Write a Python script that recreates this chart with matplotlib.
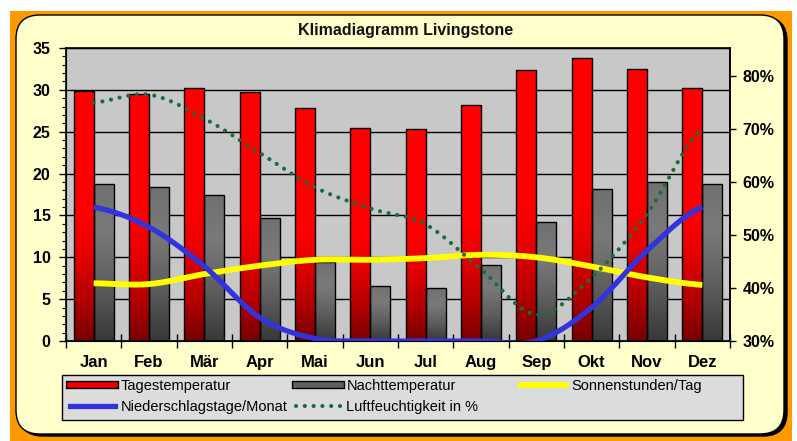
import numpy as np
import matplotlib.pyplot as plt
from matplotlib.patches import FancyBboxPatch, Rectangle
from matplotlib.lines import Line2D
from matplotlib.colors import LinearSegmentedColormap
import matplotlib.patheffects as pe

plt.rcParams['font.family'] = ['Liberation Sans', 'DejaVu Sans']

months = ['Jan', 'Feb', 'Mär', 'Apr', 'Mai', 'Jun', 'Jul', 'Aug', 'Sep', 'Okt', 'Nov', 'Dez']
tagestemp = [29.9, 29.5, 30.2, 29.7, 27.8, 25.5, 25.3, 28.2, 32.4, 33.8, 32.5, 30.2]
nachttemp = [18.8, 18.4, 17.4, 14.7, 9.4, 6.6, 6.3, 9.1, 14.2, 18.1, 19.0, 18.8]
sonnen = [6.9, 6.8, 8.0, 9.0, 9.7, 9.7, 9.9, 10.3, 10.0, 8.9, 7.6, 6.7]
regentage = [16, 13.6, 8.9, 2.8, 0.3, 0, 0, 0, 0, 4.0, 10.8, 16]
feuchte = [75, 76.5, 72, 65.5, 59, 55, 52, 43.5, 35, 42, 54, 70]


def smooth(y, n=24):
    # Catmull-Rom Kurve wie Excel "geglättete Linie"
    y = np.asarray(y, dtype=float)
    p = np.concatenate([[y[0]], y, [y[-1]]])
    xs, ys = [], []
    for i in range(len(y) - 1):
        p0, p1, p2, p3 = p[i], p[i + 1], p[i + 2], p[i + 3]
        t = np.linspace(0, 1, n, endpoint=False)
        v = 0.5 * (2 * p1 + (-p0 + p2) * t + (2 * p0 - 5 * p1 + 4 * p2 - p3) * t**2
                   + (-p0 + 3 * p1 - 3 * p2 + p3) * t**3)
        xs.append(i + t)
        ys.append(v)
    xs.append([len(y) - 1])
    ys.append([y[-1]])
    return np.concatenate(xs), np.concatenate(ys)


W, H = 797, 441
fig = plt.figure(figsize=(W / 100, H / 100), dpi=100)

# orange Rahmen + gelbes Panel
fig.patches.append(Rectangle((10 / W, 0), 782 / W, 1 - 11 / H, transform=fig.transFigure,
                             facecolor='#ff9900', edgecolor='none', zorder=-5))
fig.patches.append(FancyBboxPatch((19 / W, 5 / H), 768 / W, 1 - 22 / H,
                                  boxstyle='round,pad=0,rounding_size=0.03',
                                  transform=fig.transFigure, facecolor='black',
                                  edgecolor='black', zorder=-4, mutation_aspect=W / H))
fig.patches.append(FancyBboxPatch((16 / W, 7 / H), 768 / W, 1 - 22 / H,
                                  boxstyle='round,pad=0,rounding_size=0.03',
                                  transform=fig.transFigure, facecolor='#ffffcc',
                                  edgecolor='black', lw=1, zorder=-3, mutation_aspect=W / H))
fig.patches.append(Rectangle((62 / W, 1 - 420 / H), 681 / W, 45 / H, transform=fig.transFigure,
                             facecolor='#dcdcdc', edgecolor='black', lw=1, zorder=-2))

ax = fig.add_axes([66 / W, 1 - 341 / H, 664 / W, 293 / H])
ax.set_facecolor('#c8c8c8')
x = np.arange(len(months))
w = 0.36

red_cmap = LinearSegmentedColormap.from_list(
    'r', [(0, '#780000'), (0.15, '#b00000'), (0.35, '#e80000'), (0.5, '#ff0000'), (1, '#ff0000')])
grey_cmap = LinearSegmentedColormap.from_list(
    'g', [(0, '#383838'), (0.35, '#5e5e5e'), (0.7, '#7a7a7a'), (1, '#707070')])
grad = np.linspace(0, 1, 128).reshape(-1, 1)

for vals, off, cmap in [(tagestemp, -w / 2, red_cmap), (nachttemp, w / 2, grey_cmap)]:
    bars = ax.bar(x + off, vals, width=w, color='none', edgecolor='black', lw=1, zorder=3)
    for b in bars:
        x0, h = b.get_x(), b.get_height()
        im = ax.imshow(grad, extent=[x0, x0 + w, 0, h], origin='lower', aspect='auto',
                       cmap=cmap, zorder=2.5)
        im.set_clip_path(b)

sx, sy = smooth(sonnen)
ax.plot(sx, sy, color='#ffff00', lw=4.2, zorder=4, solid_capstyle='butt')
rx, ry = smooth(regentage)
ax.plot(rx, ry, color='#3333dd', lw=3.8, zorder=4, solid_capstyle='butt')

ax.set_xlim(-0.5, 11.5)
ax.set_ylim(0, 35)
ax.set_yticks(np.arange(0, 36, 5))
ax.set_yticks(np.arange(0, 36, 1), minor=True)
ax.grid(axis='y', which='major', color='black', lw=1, zorder=1)
ax.set_axisbelow(True)
ax.set_xticks(x)
ax.set_xticklabels(months, fontsize=12, fontweight='bold')
ax.set_xticks(np.arange(-0.5, 12, 1), minor=True)
ax.tick_params(axis='x', which='major', length=0, pad=10)
ax.tick_params(axis='x', which='minor', length=10, direction='inout', width=1)
ax.tick_params(axis='y', which='major', length=5, width=1, pad=6, labelsize=11.5)
ax.tick_params(axis='y', which='minor', length=3, width=0.8)
for lab in ax.get_yticklabels():
    lab.set_fontweight('bold')
for s in ax.spines.values():
    s.set_linewidth(1.2)

ax2 = ax.twinx()
fx, fy = smooth(feuchte)
ax2.plot(fx, fy, color='#1d6b3c', lw=3, linestyle=(0, (0.01, 2.1)),
         dash_capstyle='round', zorder=4)
ax2.set_ylim(30, 85.3)
ax2.set_yticks(np.arange(30, 81, 10))
ax2.set_yticklabels([f'{v}%' for v in range(30, 81, 10)], fontsize=11.5, fontweight='bold')
ax2.tick_params(axis='y', length=4, width=1, pad=5)
ax2.spines['right'].set_linewidth(1.2)

# Legende
bar_red = Line2D([], [], color='#ee0000', lw=4,
                 path_effects=[pe.Stroke(linewidth=6, foreground='black'), pe.Normal()])
bar_grey = Line2D([], [], color='#606060', lw=4,
                  path_effects=[pe.Stroke(linewidth=6, foreground='black'), pe.Normal()])
line_blue = Line2D([], [], color='#3333dd', lw=3.8)
line_green = Line2D([], [], color='#1d6b3c', lw=3, linestyle=(0, (0.01, 2.1)), dash_capstyle='round')
line_yellow = Line2D([], [], color='#ffff00', lw=4.2)

cols = [
    ([bar_red, line_blue], ['Tagestemperatur', 'Niederschlagstage/Monat'], 70),
    ([bar_grey, line_green], ['Nachttemperatur', 'Luftfeuchtigkeit in %'], 296),
    ([line_yellow], ['Sonnenstunden/Tag'], 521),
]
for handles, labels, px in cols:
    leg = fig.legend(handles, labels, loc='upper left', bbox_to_anchor=(px / W, 1 - 379 / H),
                     frameon=False, fontsize=10.5, handlelength=3.1, handletextpad=0.35,
                     borderpad=0, borderaxespad=0, labelspacing=0.5)
    leg.set_zorder(5)

fig.text(406 / W, 1 - 31 / H, 'Klimadiagramm Livingstone', ha='center', va='center',
         fontsize=11.5, fontweight='bold', color='#111111')

fig.savefig('out.png', dpi=100)
